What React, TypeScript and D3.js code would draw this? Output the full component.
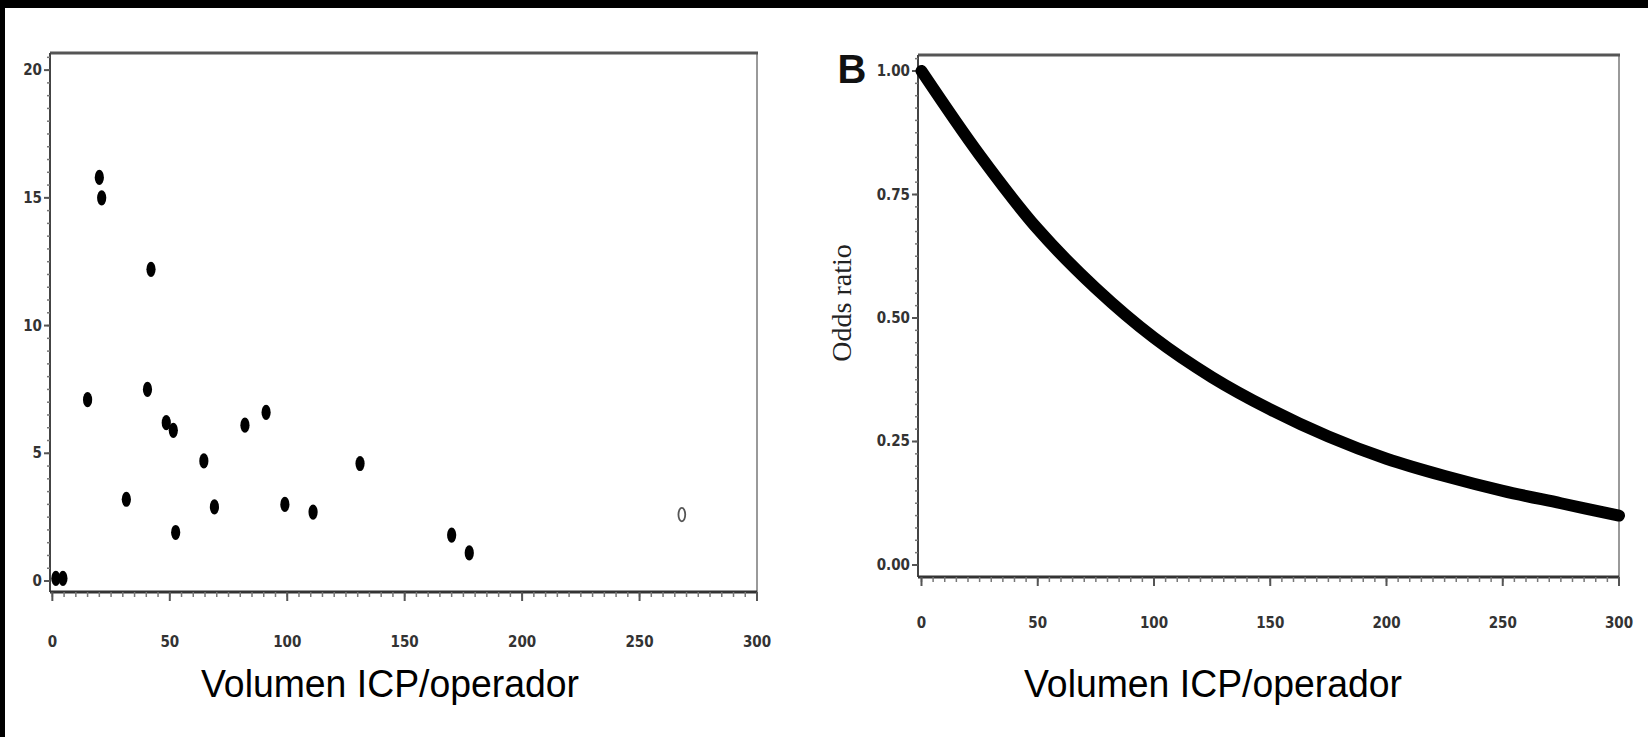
import React from "react";
import * as d3 from "d3";

// ---------- data ----------
const volumeTicks = [0, 50, 100, 150, 200, 250, 300];
const rateTicks = [0, 5, 10, 15, 20];
const oddsTicks = [0, 0.25, 0.5, 0.75, 1.0];

// Panel A: scatter (volume per operator vs. rate)
const scatterVolume = [1.5, 4.5, 15, 20, 21, 31.5, 40.5, 42, 48.5, 51.5, 52.5, 64.5, 69, 82, 91, 99, 111, 131, 170, 177.5];
const scatterRate = [0.1, 0.1, 7.1, 15.8, 15.0, 3.2, 7.5, 12.2, 6.2, 5.9, 1.9, 4.7, 2.9, 6.1, 6.6, 3.0, 2.7, 4.6, 1.8, 1.1];
const outlierVolume = [268];
const outlierRate = [2.6];

// Panel B: odds ratio curve
const curveVolume = [0, 25, 50, 75, 100, 125, 150, 175, 200, 225, 250, 275, 300];
const curveOdds = [1.0, 0.83, 0.68, 0.56, 0.46, 0.38, 0.315, 0.26, 0.215, 0.18, 0.15, 0.125, 0.1];

const xLabel = "Volumen ICP/operador";
const yLabelB = "Odds ratio";

const W = 1648;
const H = 737;
const tickFont = "'Liberation Sans Narrow', 'DejaVu Sans Condensed', 'Arial Narrow', sans-serif";

function Axes({ x, y, xTicks, yTicks, xMinorStep, yMinorStep, yFmt, xLabelY }) {
  const [x0, x1] = x.range();
  const [yb, yt] = y.range();
  const xd = x.domain();
  const yd = y.domain();
  const xMinor = d3.range(0, xd[1] + 1e-9, xMinorStep);
  const yMinor = d3.range(0, yd[1] + 1e-9, yMinorStep);
  return (
    <g>
      <rect x={x0} y={yt} width={x1 - x0} height={yb - yt} fill="#fff" />
      <line x1={x1} x2={x1} y1={yt} y2={yb} stroke="#9a9a9a" strokeWidth={2} />
      <line x1={x0} x2={x1 + 1} y1={yt} y2={yt} stroke="#555" strokeWidth={3} />
      <line x1={x0} x2={x0} y1={yt} y2={yb} stroke="#444" strokeWidth={2} />
      <line x1={x0} x2={x1} y1={yb} y2={yb} stroke="#333" strokeWidth={3} />
      {xMinor.map((v, i) => (
        <line key={"xm" + i} x1={x(v)} x2={x(v)} y1={yb} y2={yb + 5} stroke="#777" strokeWidth={1.5} />
      ))}
      {xTicks.map((v) => (
        <line key={"xt" + v} x1={x(v)} x2={x(v)} y1={yb} y2={yb + 9} stroke="#555" strokeWidth={2} />
      ))}
      {yMinor.map((v, i) => (
        <line key={"ym" + i} x1={x0 - 3} x2={x0} y1={y(v)} y2={y(v)} stroke="#777" strokeWidth={1.5} />
      ))}
      {yTicks.map((v) => (
        <line key={"yt" + v} x1={x0 - 6} x2={x0} y1={y(v)} y2={y(v)} stroke="#555" strokeWidth={2} />
      ))}
      {yTicks.map((v) => (
        <text key={"yl" + v} x={x0 - 8} y={y(v) + 5} textAnchor="end" fontFamily={tickFont} fontWeight="bold" fontSize={15} fill="#333">
          {yFmt(v)}
        </text>
      ))}
      {xTicks.map((v) => (
        <text key={"xl" + v} x={x(v)} y={xLabelY} textAnchor="middle" fontFamily={tickFont} fontWeight="bold" fontSize={15} fill="#333">
          {v}
        </text>
      ))}
    </g>
  );
}

export default function App() {
  const xA = d3.scaleLinear().domain([-1, 300]).range([50, 757]);
  const yA = d3.scaleLinear().domain([-0.43, 20.67]).range([592, 53]);
  const xB = d3.scaleLinear().domain([-1.5, 300]).range([918, 1619]);
  const yB = d3.scaleLinear().domain([-0.0243, 1.0324]).range([577, 55]);

  const line = d3
    .line<number>()
    .x((_, i) => xB(curveVolume[i]))
    .y((d) => yB(d))
    .curve(d3.curveCatmullRom);

  return (
    <svg width={W} height={H} style={{ position: "absolute", left: 0, top: 0 }}>
      <rect x={0} y={0} width={W} height={H} fill="#000" />
      <rect x={5} y={8} width={W - 5} height={H - 8} fill="#fff" />

      {/* Panel A */}
      <Axes x={xA} y={yA} xTicks={volumeTicks} yTicks={rateTicks} xMinorStep={5} yMinorStep={0.5} yFmt={(v) => String(v)} xLabelY={647} />
      {scatterVolume.map((v, i) => (
        <ellipse key={"p" + i} cx={xA(v)} cy={yA(scatterRate[i])} rx={4.6} ry={7.6} fill="#000" />
      ))}
      {outlierVolume.map((v, i) => (
        <ellipse key={"o" + i} cx={xA(v)} cy={yA(outlierRate[i])} rx={3.4} ry={6.8} fill="none" stroke="#555" strokeWidth={1.8} />
      ))}
      <text x={390} y={697} textAnchor="middle" fontFamily="'Liberation Sans Narrow', 'Liberation Sans', Arial, sans-serif" fontSize={38} fill="#000" textLength={378} lengthAdjust="spacingAndGlyphs">
        {xLabel}
      </text>

      {/* Panel B */}
      <Axes x={xB} y={yB} xTicks={volumeTicks} yTicks={oddsTicks} xMinorStep={5} yMinorStep={0.025} yFmt={(v) => v.toFixed(2)} xLabelY={628} />
      <path d={line(curveOdds) || ""} fill="none" stroke="#000" strokeWidth={12} strokeLinecap="round" />
      <text x={852} y={83} textAnchor="middle" fontFamily="'Liberation Sans', Arial, sans-serif" fontWeight="bold" fontSize={40} fill="#111">
        B
      </text>
      <text transform={`translate(851, 303) rotate(-90)`} textAnchor="middle" fontFamily="'Liberation Serif', 'Times New Roman', serif" fontSize={28} fill="#222">
        {yLabelB}
      </text>
      <text x={1213} y={697} textAnchor="middle" fontFamily="'Liberation Sans Narrow', 'Liberation Sans', Arial, sans-serif" fontSize={38} fill="#000" textLength={378} lengthAdjust="spacingAndGlyphs">
        {xLabel}
      </text>
    </svg>
  );
}
